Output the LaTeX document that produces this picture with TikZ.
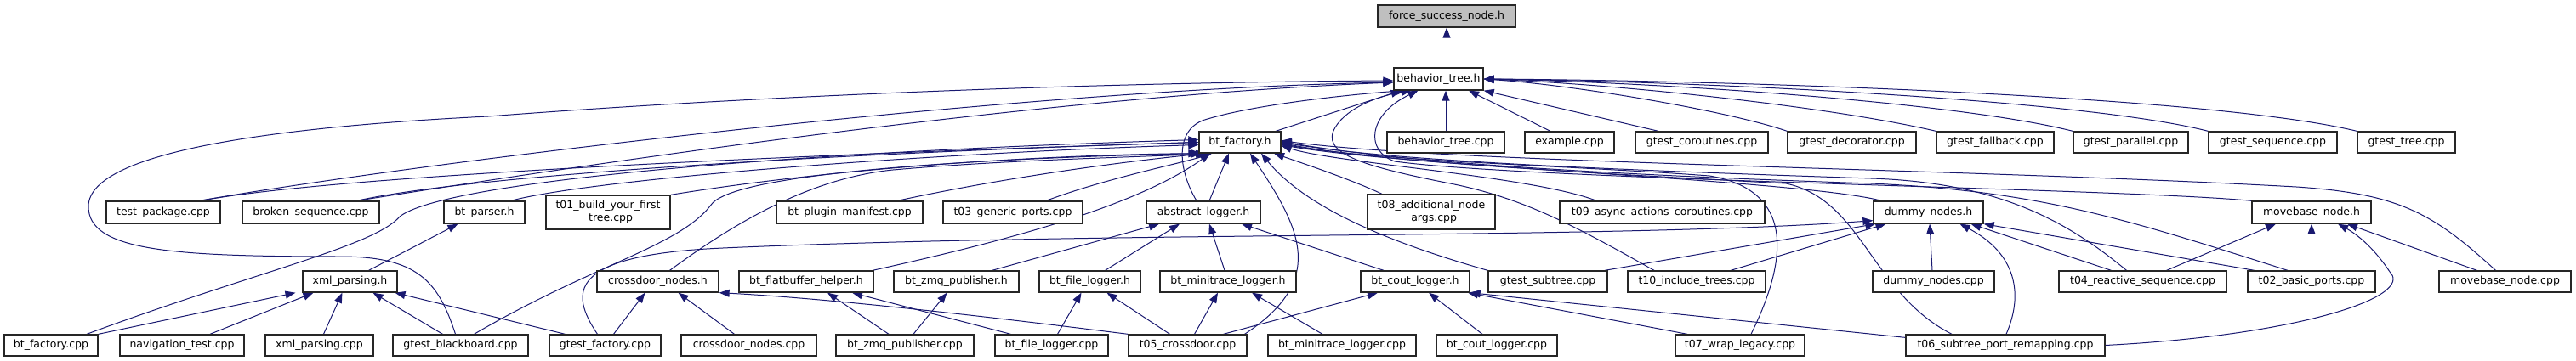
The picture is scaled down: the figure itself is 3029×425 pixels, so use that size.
\documentclass[tikz,border=0pt]{standalone}
\usepackage{fontspec}
\setmainfont{DejaVu Sans}
\usetikzlibrary{arrows.meta}
\definecolor{edgec}{RGB}{25,25,112}
\definecolor{topfill}{RGB}{191,191,191}
\pgfdeclarelayer{edgelayer}
\pgfsetlayers{edgelayer,main}
\begin{document}
\begin{tikzpicture}[x=1pt,y=1pt,
  box/.style={draw=black!85,line width=1.3pt,fill=white,inner sep=0pt,align=center,font=\fontsize{12.5}{15}\selectfont},
  topbox/.style={box,fill=topfill},
  edge/.style={draw=edgec,line width=1pt,-{Triangle[length=12pt,width=9pt]}}]
\useasboundingbox (0,0) rectangle (3029,-425);
% row A
\node[topbox,minimum width=162pt,minimum height=26pt] (fs) at (1701,-19) {force\_success\_node.h};
% row B
\node[box,minimum width=105pt,minimum height=26pt] (bt) at (1691.5,-93) {behavior\_tree.h};
% row C
\foreach \n/\c/\w/\t in {bf/1458/96/bt\_factory.h, btc/1700/138/behavior\_tree.cpp, ex/1845.5/105/example.cpp, gco/2001/156/gtest\_coroutines.cpp, gde/2177.5/151/gtest\_decorator.cpp, gfa/2346/138/gtest\_fallback.cpp, gpa/2505.5/135/gtest\_parallel.cpp, gse/2672.5/151/gtest\_sequence.cpp, gtr/2829.5/115/gtest\_tree.cpp}
  \node[box,minimum width=\w pt,minimum height=25pt] (\n) at (\c,-167.5) {\t};
% row D
\foreach \n/\c/\w/\t in {tp/192/134/test\_package.cpp, bs/365.5/161/broken\_sequence.cpp, bp/569.5/95/bt\_parser.h, pm/999/172/bt\_plugin\_manifest.cpp, t03/1191/164/t03\_generic\_ports.cpp, al/1415/134/abstract\_logger.h, t09/1954.5/241/t09\_async\_actions\_coroutines.cpp, dn/2267.5/129/dummy\_nodes.h, mb/2718/140/movebase\_node.h}
  \node[box,minimum width=\w pt,minimum height=26pt] (\n) at (\c,-250) {\t};
\node[box,minimum width=146pt,minimum height=40pt] (t01) at (715,-250) {t01\_build\_your\_first\\\_tree.cpp};
\node[box,minimum width=150pt,minimum height=41pt] (t08) at (1683,-249.5) {t08\_additional\_node\\\_args.cpp};
% row E
\foreach \n/\c/\w/\t in {xp/411.5/111/xml\_parsing.h, cn/773.5/143/crossdoor\_nodes.h, fb/948/158/bt\_flatbuffer\_helper.h, zh/1124.5/147/bt\_zmq\_publisher.h, fl/1281.5/119/bt\_file\_logger.h, ml/1444/160/bt\_minitrace\_logger.h, cl/1664/128/bt\_cout\_logger.h, gst/1820/140/gtest\_subtree.cpp, t10/1995/162/t10\_include\_trees.cpp, dnc/2273.5/143/dummy\_nodes.cpp, t04/2519.5/197/t04\_reactive\_sequence.cpp, t02/2718/150/t02\_basic\_ports.cpp, mbc/2945.5/155/movebase\_node.cpp}
  \node[box,minimum width=\w pt,minimum height=25pt] (\n) at (\c,-331.5) {\t};
% row F
\foreach \n/\c/\w/\t in {bfc/60/110/bt\_factory.cpp, nav/214/146/navigation\_test.cpp, xpc/375.5/127/xml\_parsing.cpp, gbb/541.5/159/gtest\_blackboard.cpp, gfc/711.5/131/gtest\_factory.cpp, cnc/880.5/159/crossdoor\_nodes.cpp, zc/1064/162/bt\_zmq\_publisher.cpp, flc/1236.5/133/bt\_file\_logger.cpp, t05/1396.5/139/t05\_crossdoor.cpp, mlc/1578/174/bt\_minitrace\_logger.cpp, clc/1760/142/bt\_cout\_logger.cpp, t07/2046/152/t07\_wrap\_legacy.cpp, t06/2358/234/t06\_subtree\_port\_remapping.cpp}
  \node[box,minimum width=\w pt,minimum height=25pt] (\n) at (\c,-406.5) {\t};

\begin{pgfonlayer}{edgelayer}
% ---- edges into force_success_node.h / behavior_tree.h
\draw[edge] (bt.north -| fs.south) -- (fs.south);
\draw[edge] ([xshift=42]bf.north) -- ([xshift=-44]bt.south);
\draw[edge] (btc.north) -- (btc.north |- bt.south);
\draw[edge] ([xshift=-22.5]ex.north) -- ([xshift=35.5]bt.south);
\draw[edge] ([xshift=-51]gco.north) -- (bt.south east);
\draw[edge] (gde.north west) .. controls (2030,-130) and (1850,-100) .. (bt.east);
\draw[edge] (gfa.north west) .. controls (2150,-125) and (1900,-99) .. (bt.east);
\draw[edge] (gpa.north west) .. controls (2300,-120) and (1950,-97) .. (bt.east);
\draw[edge] (gse.north west) .. controls (2450,-117) and (2000,-96) .. (bt.east);
\draw[edge] (gtr.north west) .. controls (2600,-113) and (2050,-95) .. (bt.east);
\draw[edge] ([xshift=42]tp.north) .. controls (500,-190) and (1200,-105) .. ([yshift=-4]bt.west);
\draw[edge] ([xshift=54]bs.north) .. controls (650,-200) and (1200,-115) .. ([yshift=-4]bt.west);
\draw[edge] ([xshift=-6]gbb.north) .. controls (515,-330) and (490,-302) .. (400,-302) .. controls (200,-302) and (104,-295) .. (104,-243) .. controls (104,-175) and (350,-148) .. (574,-137) .. controls (900,-112) and (1300,-97) .. ([yshift=-2]bt.west);
\draw[edge] ([xshift=-8]al.north) .. controls (1385,-200) and (1380,-150) .. (1420,-140) .. controls (1480,-122) and (1600,-110) .. ([xshift=-38]bt.south);
\draw[edge] ([xshift=-50]t10.north) .. controls (1850,-265) and (1790,-232) .. (1700,-215) .. controls (1600,-195) and (1552,-180) .. (1570,-150) .. controls (1585,-125) and (1625,-112) .. ([xshift=-32]bt.south);
\draw[edge] (mb.north west) .. controls (2500,-222) and (1800,-212) .. (1640,-190) .. controls (1605,-178) and (1608,-135) .. ([xshift=-24]bt.south);

% ---- edges into bt_factory.h
\draw[edge] ([xshift=44]tp.north) .. controls (400,-205) and (1000,-180) .. (bf.west);
\draw[edge] ([xshift=54]bs.north) .. controls (560,-205) and (1000,-180) .. (bf.west);
\draw[edge] ([xshift=31]bp.north) .. controls (700,-210) and (1100,-180) .. ([yshift=-3]bf.west);
\draw[edge] (t01.north east) .. controls (1000,-195) and (1250,-182) .. (bf.south west);
\draw[edge] ([xshift=56]pm.north) .. controls (1200,-205) and (1350,-187) .. ([xshift=-38]bf.south);
\draw[edge] ([xshift=39]t03.north) .. controls (1300,-210) and (1390,-192) .. ([xshift=-33]bf.south);
\draw[edge] ([xshift=42]bfc.north) .. controls (300,-320) and (440,-290) .. (470,-255) .. controls (520,-215) and (900,-180) .. ([yshift=3]bf.west);
\draw[edge] ([xshift=16]gbb.north) .. controls (700,-310) and (800,-290) .. (837,-240) .. controls (870,-200) and (1200,-185) .. ([xshift=-45]bf.south);
\draw[edge] ([xshift=14]cn.north) .. controls (860,-265) and (950,-210) .. (1050,-200) .. controls (1200,-187) and (1350,-185) .. ([xshift=-40]bf.south);
\draw[edge] ([xshift=78]fb.north) .. controls (1200,-280) and (1340,-240) .. ([xshift=-35]bf.south);
\draw[edge] ([xshift=7]al.north) -- ([xshift=-13]bf.south);
\draw[edge] ([xshift=67]t05.north) .. controls (1560,-330) and (1530,-270) .. ([xshift=12]bf.south);
\draw[edge] (gst.north west) .. controls (1650,-290) and (1540,-250) .. ([xshift=25]bf.south);
\draw[edge] ([xshift=-58]t08.north) .. controls (1590,-212) and (1540,-195) .. ([xshift=40]bf.south);
\draw[edge] ([xshift=-77]t09.north) .. controls (1800,-207) and (1570,-192) .. ([yshift=-4]bf.east);
\draw[edge] ([xshift=-55]dn.north) .. controls (2120,-212) and (1650,-196) .. ([yshift=-3]bf.east);
\draw[edge] ([xshift=13]t07.north) .. controls (2110,-290) and (2100,-222) .. (2010,-207) .. controls (1850,-195) and (1620,-190) .. ([yshift=-2]bf.east);
\draw[edge] ([xshift=-63]t06.north) .. controls (2200,-345) and (2190,-235) .. (2100,-216) .. controls (1900,-205) and (1630,-192) .. ([yshift=-1]bf.east);
\draw[edge] ([xshift=-19]t04.north) .. controls (2430,-260) and (2350,-215) .. (2200,-210) .. controls (1900,-200) and (1640,-190) .. (bf.east);
\draw[edge] ([xshift=-28]t02.north) .. controls (2500,-258) and (2400,-225) .. (2200,-216) .. controls (1900,-206) and (1650,-192) .. ([yshift=1]bf.east);
\draw[edge] ([xshift=-11]mbc.north) .. controls (2860,-250) and (2820,-228) .. (2700,-220) .. controls (2300,-198) and (1700,-192) .. ([yshift=2]bf.east);

% ---- edges into dummy_nodes.h / movebase_node.h
\draw[edge] ([xshift=-9]gfc.north) .. controls (670,-345) and (665,-300) .. (850,-292) .. controls (1300,-272) and (1900,-282) .. ([yshift=4]dn.south west);
\draw[edge] ([xshift=67]gst.north) -- ([xshift=3]dn.south west);
\draw[edge] ([xshift=40]t10.north) -- ([xshift=-50]dn.south);
\draw[edge] ([xshift=-1.5]dnc.north) -- ([xshift=1.5]dn.south);
\draw[edge] ([xshift=-37]t04.north) -- ([xshift=50]dn.south);
\draw[edge] ([xshift=1]t06.north) .. controls (2380,-345) and (2370,-298) .. ([xshift=37]dn.south);
\draw[edge] ([xshift=-67]t02.north) -- (dn.south east);
\draw[edge] ([xshift=28]t04.north) -- ([xshift=-42]mb.south);
\draw[edge] (t02.north) -- (t02.north |- mb.south);
\draw[edge] (t06.east) .. controls (2700,-395) and (2840,-350) .. (2810,-320) .. controls (2790,-290) and (2770,-275) .. ([xshift=31]mb.south);
\draw[edge] ([xshift=-33]mbc.north) -- ([xshift=42]mb.south);

% ---- xml_parsing.h / bt_parser.h
\draw[edge] (bfc.north east) -- ([xshift=-64]xp.south);
\draw[edge] ([xshift=33]nav.north) -- ([xshift=-43]xp.south);
\draw[edge] ([xshift=5]xpc.north) -- ([xshift=-9]xp.south);
\draw[edge] ([xshift=-21]gbb.north) -- ([xshift=27]xp.south);
\draw[edge] ([xshift=-47]gfc.north) -- ([xshift=53]xp.south);
\draw[edge] ([xshift=22]xp.north) -- ([xshift=-31]bp.south);

% ---- crossdoor_nodes.h
\draw[edge] ([xshift=10]gfc.north) -- ([xshift=-15]cn.south);
\draw[edge] ([xshift=-17]cnc.north) -- ([xshift=24]cn.south);
\draw[edge] (t05.north west) .. controls (1100,-365) and (950,-350) .. (cn.south east);

% ---- loggers
\draw[edge] ([xshift=-19]zc.north) -- ([xshift=25]fb.south);
\draw[edge] ([xshift=-48]flc.north) -- ([xshift=54]fb.south);
\draw[edge] ([xshift=10]zc.north) -- ([xshift=-11]zh.south);
\draw[edge] ([xshift=7]flc.north) -- ([xshift=-10]fl.south);
\draw[edge] ([xshift=-21]t05.north) -- ([xshift=20]fl.south);
\draw[edge] ([xshift=8]t05.north) -- ([xshift=-12]ml.south);
\draw[edge] ([xshift=-23]mlc.north) -- ([xshift=28]ml.south);
\draw[edge] ([xshift=42]t05.north) -- ([xshift=-44]cl.south);
\draw[edge] ([xshift=-17]clc.north) -- ([xshift=16]cl.south);
\draw[edge] ([xshift=-62]t07.north) -- ([xshift=62]cl.south);
\draw[edge] ([yshift=-4]t06.north west) -- (cl.south east);
\draw[edge] ([xshift=42]zh.north) -- ([xshift=-52]al.south);
\draw[edge] ([xshift=18]fl.north) -- ([xshift=-28]al.south);
\draw[edge] ([xshift=-4]ml.north) -- ([xshift=7]al.south);
\draw[edge] ([xshift=-37]cl.north) -- ([xshift=45]al.south);
\end{pgfonlayer}
\end{tikzpicture}
\end{document}
